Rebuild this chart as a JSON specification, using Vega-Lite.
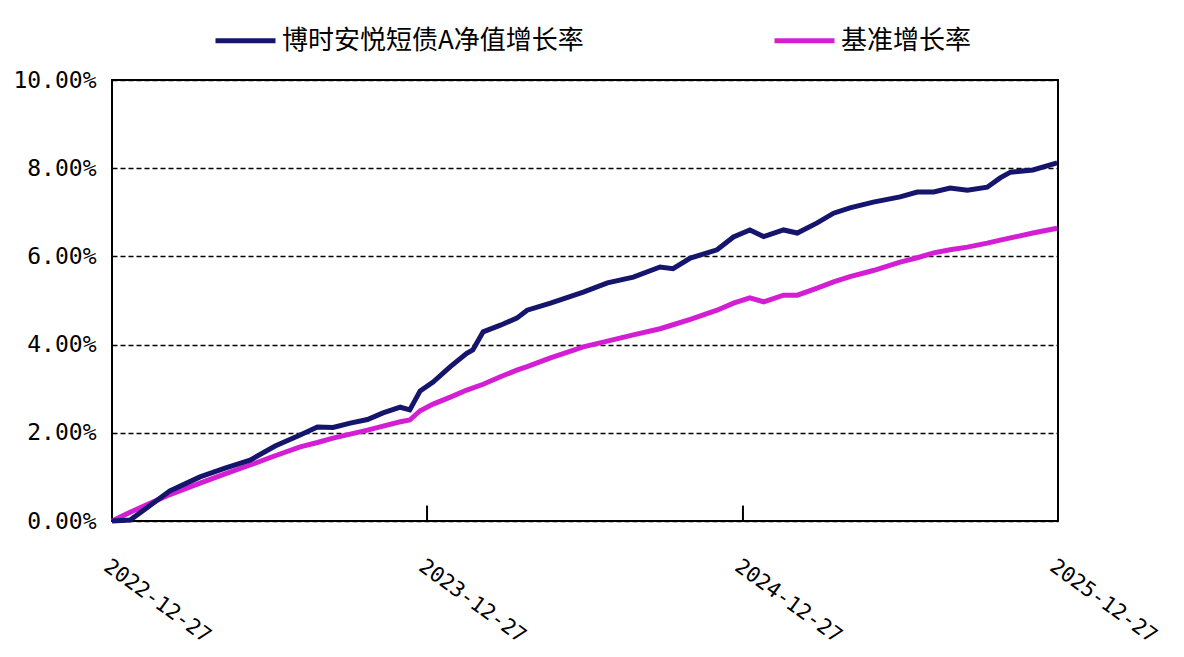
{
  "$schema": "https://vega.github.io/schema/vega-lite/v6.json",
  "autosize": {"type": "none"},
  "width": 946,
  "height": 441,
  "padding": {"left": 112, "top": 80, "right": 126, "bottom": 136},
  "background": "white",
  "config": {
    "view": {"stroke": "black", "strokeWidth": 2},
    "axis": {"labelColor": "black", "domain": false}
  },
  "datasets": {
    "fund": [
      {"date": "2022-12-27", "v": 0.0},
      {"date": "2023-01-17", "v": 0.02},
      {"date": "2023-02-09", "v": 0.35},
      {"date": "2023-03-04", "v": 0.68},
      {"date": "2023-04-08", "v": 1.0},
      {"date": "2023-05-07", "v": 1.2},
      {"date": "2023-06-05", "v": 1.38},
      {"date": "2023-07-04", "v": 1.7},
      {"date": "2023-08-02", "v": 1.95},
      {"date": "2023-08-22", "v": 2.13},
      {"date": "2023-09-09", "v": 2.12},
      {"date": "2023-09-29", "v": 2.22},
      {"date": "2023-10-19", "v": 2.3},
      {"date": "2023-11-06", "v": 2.45},
      {"date": "2023-11-26", "v": 2.58},
      {"date": "2023-12-07", "v": 2.52},
      {"date": "2023-12-19", "v": 2.95},
      {"date": "2024-01-03", "v": 3.15},
      {"date": "2024-01-23", "v": 3.5},
      {"date": "2024-02-11", "v": 3.8},
      {"date": "2024-02-18", "v": 3.88},
      {"date": "2024-03-01", "v": 4.29},
      {"date": "2024-03-21", "v": 4.44},
      {"date": "2024-04-09", "v": 4.6},
      {"date": "2024-04-21", "v": 4.78},
      {"date": "2024-05-18", "v": 4.94},
      {"date": "2024-06-25", "v": 5.19},
      {"date": "2024-07-23", "v": 5.4},
      {"date": "2024-08-22", "v": 5.53},
      {"date": "2024-09-22", "v": 5.76},
      {"date": "2024-10-07", "v": 5.72},
      {"date": "2024-10-27", "v": 5.96},
      {"date": "2024-11-27", "v": 6.15},
      {"date": "2024-12-16", "v": 6.44},
      {"date": "2025-01-04", "v": 6.6},
      {"date": "2025-01-20", "v": 6.45},
      {"date": "2025-02-12", "v": 6.6},
      {"date": "2025-02-28", "v": 6.53},
      {"date": "2025-03-23", "v": 6.76},
      {"date": "2025-04-11", "v": 6.98},
      {"date": "2025-04-30", "v": 7.1},
      {"date": "2025-05-27", "v": 7.23},
      {"date": "2025-06-27", "v": 7.35},
      {"date": "2025-07-17", "v": 7.46},
      {"date": "2025-08-05", "v": 7.46},
      {"date": "2025-08-24", "v": 7.55},
      {"date": "2025-09-13", "v": 7.5},
      {"date": "2025-10-06", "v": 7.57},
      {"date": "2025-10-21", "v": 7.78},
      {"date": "2025-11-02", "v": 7.91},
      {"date": "2025-11-28", "v": 7.96},
      {"date": "2025-12-26", "v": 8.12}
    ],
    "bench": [
      {"date": "2022-12-27", "v": 0.0},
      {"date": "2023-01-17", "v": 0.2},
      {"date": "2023-02-09", "v": 0.4},
      {"date": "2023-03-04", "v": 0.6},
      {"date": "2023-04-08", "v": 0.86},
      {"date": "2023-05-07", "v": 1.07},
      {"date": "2023-06-05", "v": 1.27},
      {"date": "2023-07-04", "v": 1.48},
      {"date": "2023-08-02", "v": 1.68},
      {"date": "2023-08-22", "v": 1.78},
      {"date": "2023-09-09", "v": 1.88},
      {"date": "2023-09-29", "v": 1.97},
      {"date": "2023-10-19", "v": 2.06},
      {"date": "2023-11-06", "v": 2.15},
      {"date": "2023-11-26", "v": 2.25},
      {"date": "2023-12-07", "v": 2.29},
      {"date": "2023-12-19", "v": 2.5},
      {"date": "2024-01-03", "v": 2.65},
      {"date": "2024-01-23", "v": 2.81},
      {"date": "2024-02-11", "v": 2.97},
      {"date": "2024-03-01", "v": 3.1},
      {"date": "2024-03-21", "v": 3.27},
      {"date": "2024-04-09", "v": 3.42},
      {"date": "2024-04-21", "v": 3.5},
      {"date": "2024-05-18", "v": 3.7},
      {"date": "2024-06-25", "v": 3.95},
      {"date": "2024-07-23", "v": 4.08},
      {"date": "2024-08-22", "v": 4.22},
      {"date": "2024-09-22", "v": 4.36},
      {"date": "2024-10-07", "v": 4.45},
      {"date": "2024-10-27", "v": 4.57},
      {"date": "2024-11-27", "v": 4.78},
      {"date": "2024-12-16", "v": 4.94},
      {"date": "2025-01-04", "v": 5.06},
      {"date": "2025-01-20", "v": 4.97},
      {"date": "2025-02-12", "v": 5.12},
      {"date": "2025-02-28", "v": 5.12},
      {"date": "2025-03-23", "v": 5.28},
      {"date": "2025-04-11", "v": 5.42},
      {"date": "2025-04-30", "v": 5.54},
      {"date": "2025-05-27", "v": 5.68},
      {"date": "2025-06-27", "v": 5.87},
      {"date": "2025-07-17", "v": 5.97},
      {"date": "2025-08-05", "v": 6.08},
      {"date": "2025-08-24", "v": 6.15},
      {"date": "2025-09-13", "v": 6.21},
      {"date": "2025-10-06", "v": 6.3},
      {"date": "2025-10-21", "v": 6.37},
      {"date": "2025-11-02", "v": 6.42},
      {"date": "2025-11-28", "v": 6.53},
      {"date": "2025-12-26", "v": 6.64}
    ],
    "ticks": [
      {"date": "2023-12-27", "y0": 0, "y1": 0.35},
      {"date": "2024-12-27", "y0": 0, "y1": 0.35},
      {"date": "2025-12-27", "y0": 0, "y1": 0.35}
    ]
  },
  "data": {"name": "fund"},
  "transform": [
    {"calculate": "'博时安悦短债A净值增长率'", "as": "series"}
  ],
  "layer": [
    {
      "data": {"name": "ticks"},
      "mark": {"type": "rule", "color": "black", "strokeWidth": 2},
      "encoding": {
        "x": {"field": "date", "type": "temporal"},
        "y": {"field": "y0", "type": "quantitative"},
        "y2": {"field": "y1"}
      }
    },
    {
      "data": {"name": "bench"},
      "transform": [{"calculate": "'基准增长率'", "as": "series"}],
      "mark": {"type": "line", "strokeWidth": 5, "interpolate": "linear"},
      "encoding": {
        "x": {"field": "date", "type": "temporal"},
        "y": {"field": "v", "type": "quantitative"},
        "color": {"field": "series", "type": "nominal"}
      }
    },
    {
      "mark": {"type": "line", "strokeWidth": 5},
      "encoding": {
        "x": {
          "field": "date",
          "type": "temporal",
          "scale": {"domain": ["2022-12-27", "2025-12-27"]},
          "axis": {
            "title": null,
            "values": ["2022-12-27", "2023-12-27", "2024-12-27", "2025-12-27"],
            "format": "%Y-%m-%d",
            "grid": false,
            "ticks": false,
            "labelAngle": 36,
            "labelAlign": "left",
            "labelBaseline": "top",
            "labelPadding": 34,
            "labelFont": "DejaVu Sans Mono",
            "labelFontSize": 21,
            "labelOverlap": false,
            "labelFlush": false
          }
        },
        "y": {
          "field": "v",
          "type": "quantitative",
          "scale": {"domain": [0, 10]},
          "axis": {
            "title": null,
            "values": [0, 2, 4, 6, 8, 10],
            "labelExpr": "format(datum.value, '.2f') + '%'",
            "grid": true,
            "gridColor": "black",
            "gridDash": [5, 3],
            "gridWidth": 1.5,
            "ticks": false,
            "labelPadding": 16,
            "labelFont": "DejaVu Sans Mono",
            "labelFontSize": 23
          }
        },
        "color": {
          "field": "series",
          "type": "nominal",
          "scale": {
            "domain": ["博时安悦短债A净值增长率", "基准增长率"],
            "range": ["#15156E", "#D41ED4"]
          },
          "legend": {
            "title": null,
            "orient": "none",
            "legendX": 101,
            "legendY": -72,
            "direction": "horizontal",
            "symbolType": "stroke",
            "symbolSize": 3600,
            "symbolStrokeWidth": 5,
            "labelFont": "Noto Sans CJK SC",
            "labelFontSize": 26,
            "labelColor": "black",
            "labelOffset": 4,
            "labelLimit": 400,
            "columnPadding": 180
          }
        }
      }
    }
  ]
}
